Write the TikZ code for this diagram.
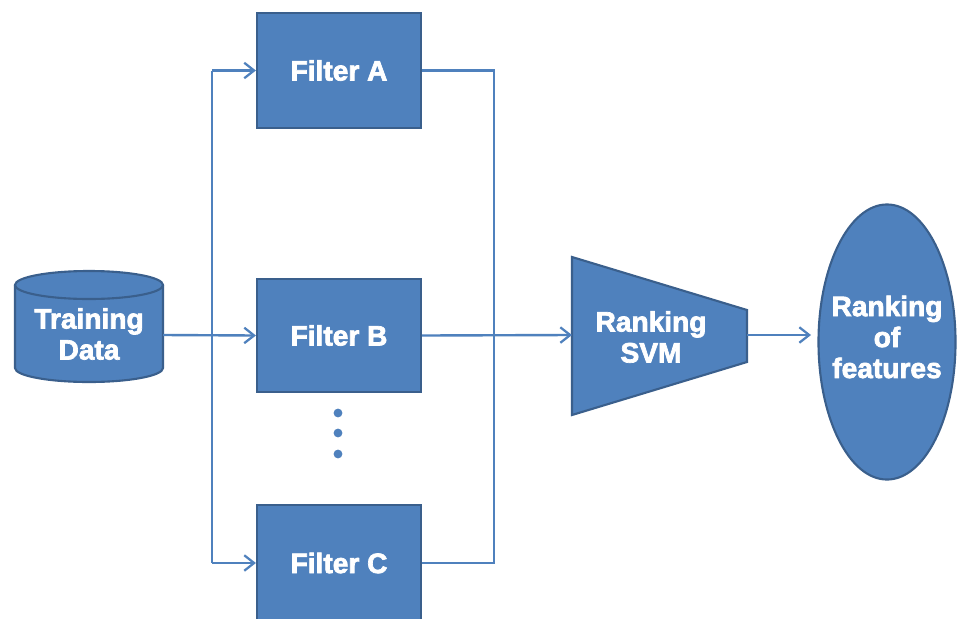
\documentclass[tikz,border=0pt]{standalone}
\usepackage{fontspec}
\newfontfamily\heavyfont{Liberation Sans}[FakeBold=2.5]
\usetikzlibrary{arrows.meta,shapes.geometric}
\definecolor{fillblue}{HTML}{4F81BD}
\definecolor{edgeblue}{HTML}{3A5F8C}
\begin{document}
\begin{tikzpicture}[x=0.025cm,y=-0.025cm,
  lbl/.style={text=white,font=\heavyfont\bfseries\fontsize{20}{22}\selectfont,align=center,inner sep=0pt},
  filterbox/.style={lbl,draw=edgeblue,line width=1.5pt,fill=fillblue,minimum width=4.1cm},
  shapefill/.style={draw=edgeblue,line width=1.5pt,fill=fillblue},
  conn/.style={draw=fillblue,line width=1.7pt},
  arr/.style={conn,-{Straight Barb[length=7pt,width=11pt,line width=1.6pt]}},
  dot/.style={circle,fill=fillblue,inner sep=0pt,minimum size=0.22cm}]
\clip (0,0) rectangle (957,618);
\fill[white] (0,0) rectangle (957,618);
% cylinder
\draw[shapefill] (15,285) -- (15,368) arc[start angle=180,end angle=0,x radius=74,y radius=14] -- (163,285);
\draw[shapefill] (89,285) ellipse[x radius=74,y radius=14];
\node[lbl] (data) at (89,334) {Training\\Data};
\coordinate (dataR) at (163,335);
% filters
\node[filterbox,minimum height=2.875cm] (fa) at (339,70.5) {Filter A};
\node[filterbox,minimum height=2.825cm] (fb) at (339,335.5) {Filter B};
\node[filterbox,minimum height=2.9cm] (fc) at (339,563) {Filter C};
\node[dot] (d1) at (338,413) {};
\node[dot] (d2) at (338,433) {};
\node[dot] (d3) at (338,454) {};
% trapezoid
\coordinate (t1) at (572,257);
\coordinate (t2) at (747,310);
\coordinate (t3) at (747,362);
\coordinate (t4) at (572,415);
\draw[shapefill] (t1) -- (t2) -- (t3) -- (t4) -- cycle;
\node[lbl] (svm) at (651,337) {Ranking\\SVM};
\coordinate (svmL) at (572,335);
\coordinate (svmR) at (747,335);
% ellipse
\node[ellipse,shapefill,minimum width=3.425cm,minimum height=6.875cm,inner sep=0pt] (feat) at (887,342) {};
\node[lbl] (feattext) at (887,337) {Ranking\\of\\features};
\coordinate (featIn) at (811,335);
% buses
\coordinate (bl1) at (212,70.5);
\coordinate (bl2) at (212,563);
\coordinate (br1) at (494,70.5);
\coordinate (br2) at (494,563);
\draw[conn] (bl1) -- (bl2);
\draw[arr] (bl1) -- (fa.west);
\draw[arr] (bl2) -- (fc.west);
\draw[arr] (dataR) -- (fb.west);
\draw[conn] (fa.east) -- (br1) -- (br2) -- (fc.east);
\draw[arr] (fb.east) -- (svmL);
\draw[arr] (svmR) -- (featIn);
\end{tikzpicture}
\end{document}
